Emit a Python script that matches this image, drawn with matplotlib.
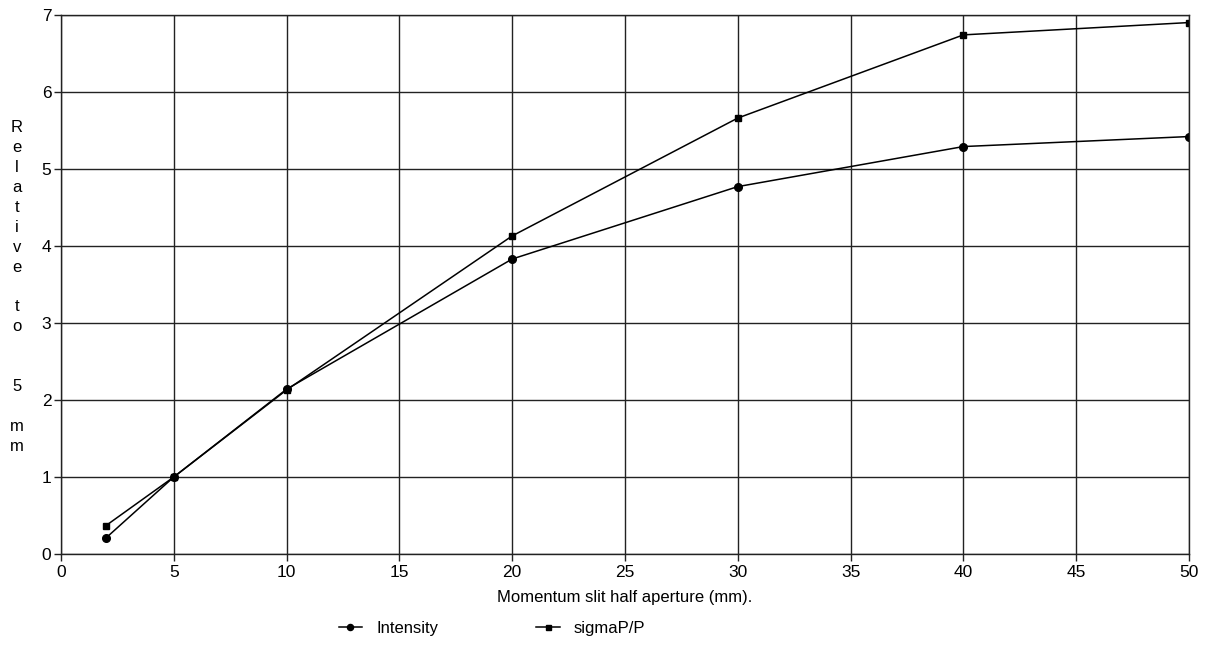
import matplotlib
matplotlib.use("Agg")
import matplotlib.pyplot as plt

plt.rcParams['font.family'] = ['Liberation Sans', 'DejaVu Sans']

aperture = [2, 5, 10, 20, 30, 40, 50]
intensity = [0.21, 1.0, 2.14, 3.83, 4.77, 5.29, 5.42]
sigma_p = [0.37, 1.0, 2.13, 4.13, 5.66, 6.74, 6.90]

x_ticks = list(range(0, 51, 5))
y_ticks = list(range(0, 8))

fig = plt.figure(figsize=(12.1, 6.46), dpi=100)
ax = fig.add_axes([0.0504, 0.1424, 0.9322, 0.8346])

ax.plot(aperture, intensity, color='black', lw=1.1, marker='o', ms=5.5,
        label='Intensity')
ax.plot(aperture, sigma_p, color='black', lw=1.1, marker='s', ms=4.5,
        label='sigmaP/P')

ax.set_xlim(0, 50)
ax.set_ylim(0, 7)
ax.set_xticks(x_ticks)
ax.set_yticks(y_ticks)
ax.grid(True, color='#222222', lw=1.0)
ax.set_axisbelow(True)
for s in ax.spines.values():
    s.set_color('#222222')
    s.set_linewidth(1.0)
ax.tick_params(axis='both', labelsize=12.5, color='#222222', length=5,
               width=1.0, pad=2)
ax.tick_params(axis='x', pad=3)

ax.set_xlabel('Momentum slit half aperture (mm).', fontsize=12, labelpad=7)

ylab = ['R', 'e', 'l', 'a', 't', 'i', 'v', 'e', '', 't', 'o', '', '',
        '5', '', 'm', 'm']
fig.text(17 / 1210, 1 - 287 / 646, '\n'.join(ylab), fontsize=12,
         ha='center', va='center', multialignment='center', linespacing=1.41)

fig.legend(loc='center', bbox_to_anchor=(492 / 1210, 1 - 628 / 646), ncol=2,
           frameon=False, fontsize=12, handlelength=1.4, handletextpad=0.85,
           columnspacing=5.9, markerscale=0.8)

fig.savefig('out.png', dpi=100)
